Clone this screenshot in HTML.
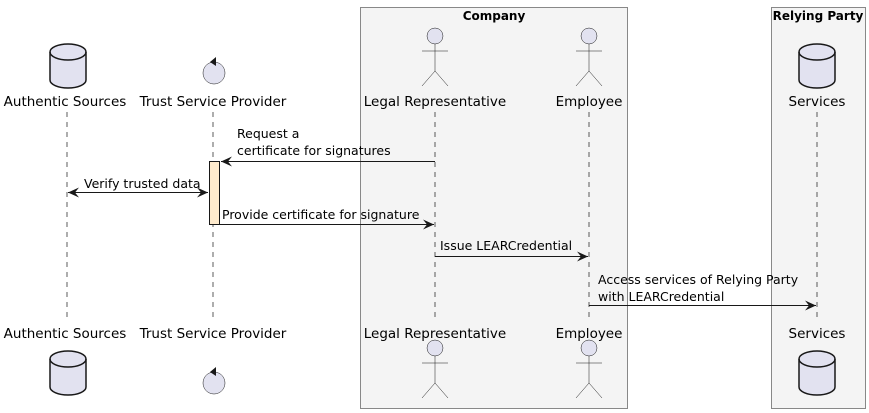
<!DOCTYPE html>
<html><head><meta charset="utf-8"><style>body{margin:0;background:#fff}svg{display:block}text{font-family:"DejaVu Sans","Liberation Sans",sans-serif}</style></head><body>
<svg width="869" height="413" viewBox="0 0 869 413" xmlns="http://www.w3.org/2000/svg">
<defs>
<g id="db"><path d="M-18,8 a18,8 0 0 1 36,0 v28 a18,8 0 0 1 -36,0z" fill="#E2E2F0" stroke="#181818" stroke-width="1.5"/><path d="M-18,8 a18,8 0 0 0 36,0" fill="none" stroke="#181818" stroke-width="1.5"/></g>
<g id="actor" fill="none" stroke="#181818"><circle cx="0" cy="8" r="8" fill="#E2E2F0" stroke-width="0.5"/><path d="M0,16v27M-13,23h26M0,43l-13,15M0,43l13,15" stroke-width="0.5"/></g>
<g id="ctl"><circle cx="0" cy="0" r="11" fill="#E2E2F0" stroke="#181818" stroke-width="0.5"/><path d="M2,-16l-6,5l6,4" fill="#181818"/></g>
<marker id="ah" markerWidth="12" markerHeight="10" refX="11" refY="5" orient="auto-start-reverse" markerUnits="userSpaceOnUse"><path d="M0,0L11,5L0,10L4,5z" fill="#181818"/></marker>
</defs>
<rect x="360.5" y="7.5" width="267" height="401" fill="#F4F4F4" stroke="#888" />
<rect x="771.5" y="7.5" width="94" height="401" fill="#F4F4F4" stroke="#888" />
<text x="494" y="20" font-size="12" font-weight="bold" text-anchor="middle">Company</text>
<text x="818" y="20" font-size="12" font-weight="bold" text-anchor="middle">Relying Party</text>
<g stroke="#181818" stroke-dasharray="5,5" stroke-width="0.7">
<line x1="67" y1="112" x2="67" y2="322"/><line x1="213" y1="112" x2="213" y2="322"/><line x1="435" y1="112" x2="435" y2="322"/><line x1="589" y1="112" x2="589" y2="322"/><line x1="817" y1="112" x2="817" y2="322"/></g>
<g font-size="13.5" text-anchor="middle" fill="#000">
<text x="65" y="106">Authentic Sources</text><text x="213" y="106">Trust Service Provider</text><text x="435" y="106">Legal Representative</text><text x="589" y="106">Employee</text><text x="817" y="106">Services</text>
<text x="65" y="338">Authentic Sources</text><text x="213" y="338">Trust Service Provider</text><text x="435" y="338">Legal Representative</text><text x="589" y="338">Employee</text><text x="817" y="338">Services</text></g>
<use href="#db" x="68" y="44"/><use href="#db" x="817" y="44"/><use href="#db" x="68" y="351"/><use href="#db" x="817" y="351"/>
<use href="#ctl" x="214" y="73"/><use href="#ctl" x="214" y="383"/>
<use href="#actor" x="435" y="28"/><use href="#actor" x="589" y="28"/><use href="#actor" x="435" y="340"/><use href="#actor" x="589" y="340"/>
<rect x="209.5" y="161.5" width="10" height="63" fill="#FFEBCD" stroke="#181818"/>
<g stroke="#181818" stroke-width="1" fill="none">
<line x1="435" y1="161.5" x2="221" y2="161.5" marker-end="url(#ah)"/>
<line x1="68" y1="192.5" x2="208" y2="192.5" marker-start="url(#ah)" marker-end="url(#ah)"/>
<line x1="219" y1="224.5" x2="434" y2="224.5" marker-end="url(#ah)"/>
<line x1="435" y1="256.5" x2="588" y2="256.5" marker-end="url(#ah)"/>
<line x1="589" y1="305.5" x2="816" y2="305.5" marker-end="url(#ah)"/></g>
<g font-size="12.5" fill="#000">
<text x="237" y="138">Request a</text><text x="237" y="155">certificate for signatures</text>
<text x="84" y="188">Verify trusted data</text>
<text x="222" y="219">Provide certificate for signature</text>
<text x="440" y="250">Issue LEARCredential</text>
<text x="598" y="284">Access services of Relying Party</text><text x="598" y="301">with LEARCredential</text></g>
</svg></body></html>
